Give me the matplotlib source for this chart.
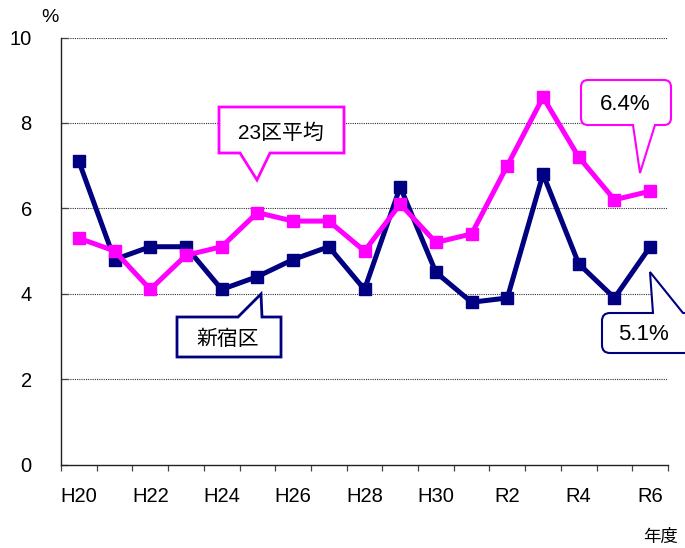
import matplotlib
matplotlib.use("Agg")
import matplotlib.pyplot as plt
from matplotlib.path import Path
from matplotlib.patches import PathPatch

# Fiscal years (Heisei 20 – Reiwa 6)
years = ["H20", "H21", "H22", "H23", "H24", "H25", "H26", "H27", "H28",
         "H29", "H30", "R1", "R2", "R3", "R4", "R5", "R6"]
shinjuku = [7.1, 4.8, 5.1, 5.1, 4.1, 4.4, 4.8, 5.1, 4.1,
            6.5, 4.5, 3.8, 3.9, 6.8, 4.7, 3.9, 5.1]
ward_avg = [5.3, 5.0, 4.1, 4.9, 5.1, 5.9, 5.7, 5.7, 5.0,
            6.1, 5.2, 5.4, 7.0, 8.6, 7.2, 6.2, 6.4]
tick_labels = ["H20", "H22", "H24", "H26", "H28", "H30", "R2", "R4", "R6"]
y_ticks = [0, 2, 4, 6, 8, 10]

NAVY = "#000080"
MAGENTA = "#FF00FF"
FONT = ["Liberation Sans", "Noto Sans CJK JP", "DejaVu Sans"]
plt.rcParams["font.family"] = FONT

W, H = 685, 548
fig = plt.figure(figsize=(W / 100, H / 100), dpi=100)
ax = fig.add_axes([61 / W, 1 - 464.5 / H, (668 - 61) / W, (464.5 - 37.5) / H])

x = list(range(len(years)))
ax.plot(x, shinjuku, color=NAVY, lw=3.6, marker="s", ms=9,
        solid_joinstyle="round", zorder=3, clip_on=False)
ax.plot(x, ward_avg, color=MAGENTA, lw=3.6, marker="s", ms=9,
        solid_joinstyle="round", zorder=4, clip_on=False)

ax.set_xlim(-0.5, len(years) - 0.5)
ax.set_ylim(0, 10)

# category boundary ticks, labels centred on every second year
ax.set_xticks([i - 0.5 for i in range(len(years) + 1)])
ax.set_xticklabels([])
ax.tick_params(axis="x", which="major", direction="out", length=4.5,
               width=0.9, color="#444444")
label_pos = [years.index(t) for t in tick_labels]
ax.set_xticks(label_pos, minor=True)
ax.set_xticklabels(tick_labels, minor=True, fontsize=14.5)
ax.tick_params(axis="x", which="minor", length=0, pad=16)

ax.set_yticks(y_ticks)
ax.set_yticklabels([str(v) for v in y_ticks], fontsize=14.5)
ax.tick_params(axis="y", direction="in", length=5, width=0.9,
               color="#444444", pad=21)

for v in y_ticks[1:]:
    ax.axhline(v, color="#333333", lw=0.8, ls=(0, (1, 1)), zorder=1)

for s in ("top", "right"):
    ax.spines[s].set_visible(False)
for s in ("left", "bottom"):
    ax.spines[s].set_color("#222222")
    ax.spines[s].set_linewidth(1.0)


def px(xp, yp):
    return xp / W, 1 - yp / H


def callout(x0, y0, x1, y1, r, side, ba, bb, tip, ec, lw=1.5):
    verts, codes = [], []

    def mv(p):
        verts.append(px(*p)); codes.append(Path.MOVETO)

    def ln(p):
        verts.append(px(*p)); codes.append(Path.LINETO)

    def cv(c, p):
        verts.extend([px(*c), px(*p)]); codes.extend([Path.CURVE3, Path.CURVE3])

    mv((x0 + r, y0))
    if side == "top":
        ln((ba, y0)); ln(tip); ln((bb, y0))
    ln((x1 - r, y0))
    cv((x1, y0), (x1, y0 + r))
    ln((x1, y1 - r))
    cv((x1, y1), (x1 - r, y1))
    if side == "bottom":
        ln((bb, y1)); ln(tip); ln((ba, y1))
    ln((x0 + r, y1))
    cv((x0, y1), (x0, y1 - r))
    ln((x0, y0 + r))
    cv((x0, y0), (x0 + r, y0))
    codes.append(Path.CLOSEPOLY); verts.append(px(x0 + r, y0))
    patch = PathPatch(Path(verts, codes), transform=fig.transFigure,
                      facecolor="white", edgecolor=ec, lw=lw, zorder=10,
                      joinstyle="miter")
    fig.patches.append(patch)


def label(xp, yp, s, size=15):
    fx, fy = px(xp, yp)
    fig.text(fx, fy, s, ha="center", va="center", fontsize=size,
             color="black", zorder=11)


callout(219, 107, 344, 153, 0, "bottom", 240, 270, (257, 180), MAGENTA, lw=2.0)
label(281, 133, "23区平均")

callout(177, 317, 281, 357, 0, "top", 238, 262, (261, 294), NAVY, lw=2.0)
label(228, 339, "新宿区")

callout(581, 80, 671, 125, 7, "bottom", 633, 655, (640, 173), MAGENTA, lw=1.5)
label(625, 105, "6.4%", size=16)

callout(602, 313, 705, 353, 8, "top", 653, 683, (650, 272), NAVY, lw=1.5)
label(643, 335, "5.1%", size=16)

fig.text(*px(50, 17), "%", ha="center", va="center", fontsize=14)
fig.text(*px(660, 537), "年度", ha="center", va="center", fontsize=12.5)

fig.savefig("out.png", dpi=100)
